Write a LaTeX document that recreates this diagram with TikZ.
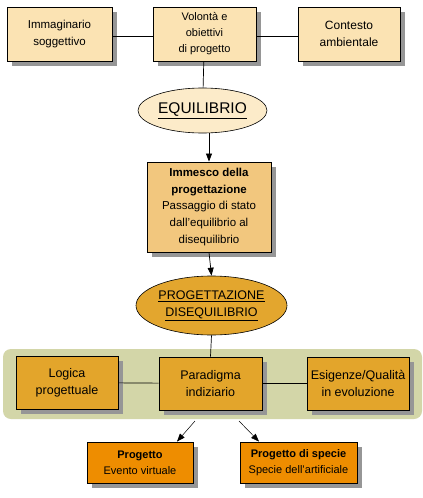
\documentclass[tikz,border=0pt]{standalone}
\usepackage{fontspec}
\setmainfont{Liberation Sans}
\usetikzlibrary{arrows.meta,shapes.geometric,shadows}
\definecolor{peachlight}{RGB}{251,227,179}
\definecolor{creamoval}{RGB}{252,235,201}
\definecolor{tanbox}{RGB}{242,199,126}
\definecolor{goldbox}{RGB}{227,165,43}
\definecolor{goldoval}{RGB}{227,166,46}
\definecolor{olivepanel}{RGB}{211,214,168}
\definecolor{orangebox}{RGB}{238,141,0}
\definecolor{shadowgray}{RGB}{150,150,150}

\begin{document}
\begin{tikzpicture}[
    x=1pt, y=-1pt,
    >={Triangle[length=8pt, width=6pt]},
    card/.style={draw=black, line width=0.9pt, inner sep=0pt, align=center,
        drop shadow={shadow xshift=5pt, shadow yshift=-5pt, fill=shadowgray, opacity=1}},
    oval/.style={ellipse, draw=black, line width=0.6pt, inner sep=0pt, align=center},
    link/.style={black, line width=0.7pt}
]

\useasboundingbox (0,0) rectangle (423,498);
\fill[white] (0,0) rectangle (423,498);

% top row
\node[card, fill=peachlight, minimum width=105pt, minimum height=54pt, font=\fontsize{11.5}{16.5}\selectfont] (imm) at (59.5,34) {Immaginario\\soggettivo};
\node[card, fill=peachlight, minimum width=103pt, minimum height=54pt, font=\fontsize{11}{16}\selectfont] (vol) at (204.5,34) {Volontà e\\obiettivi\\di progetto};
\node[card, fill=peachlight, minimum width=102pt, minimum height=54pt, font=\fontsize{12}{16.5}\selectfont] (cont) at (349,34) {Contesto\\ambientale};

% equilibrium
\node[oval, fill=creamoval, minimum width=129pt, minimum height=45pt, font=\fontsize{15.5}{18}\selectfont] (equi) at (202.5,110.5) {\underline{EQUILIBRIO}};

% trigger
\node[card, fill=tanbox, minimum width=124pt, minimum height=90pt, font=\fontsize{11.5}{17}\selectfont] (immesco) at (209,207) {\textbf{Immesco della}\\\textbf{progettazione}\\[-1pt]
    \fontsize{11.5}{15}\selectfont Passaggio di stato\\\fontsize{11.5}{15}\selectfont dall'equilibrio al\\\fontsize{11.5}{15}\selectfont disequilibrio};

% design / disequilibrium
\node[oval, fill=goldoval, minimum width=151pt, minimum height=59pt, font=\fontsize{12.5}{17}\selectfont] (prog) at (211.5,305.5) {\underline{PROGETTAZIONE}\\\underline{DISEQUILIBRIO}};

% panel
\fill[olivepanel, rounded corners=8pt] (3,349) rectangle (422,419);

\node[card, fill=goldbox, minimum width=102pt, minimum height=53pt, font=\fontsize{12.5}{17}\selectfont] (logica) at (67,382.5) {Logica\\progettuale};
\node[card, fill=goldbox, minimum width=103pt, minimum height=53pt, font=\fontsize{12.5}{17}\selectfont] (para) at (210.5,383.5) {Paradigma\\indiziario};
\node[card, fill=goldbox, minimum width=102pt, minimum height=53pt, font=\fontsize{12.5}{17}\selectfont] (esig) at (358,383.5) {Esigenze/Qualità\\in evoluzione};

% outcomes
\node[card, fill=orangebox, minimum width=106pt, minimum height=41pt, font=\fontsize{11}{16}\selectfont] (pr1) at (140,462.5) {\textbf{Progetto}\\Evento virtuale};
\node[card, fill=orangebox, minimum width=117pt, minimum height=41pt, font=\fontsize{11}{16}\selectfont] (pr2) at (298.5,462.5) {\textbf{Progetto di specie}\\Specie dell'artificiale};

\coordinate (fork1) at (195,421);
\coordinate (fork2) at (239,421);

% connectors
\draw[link] (imm.east |- 0,36) -- (vol.west |- 0,36);
\draw[link] (vol.east |- 0,36) -- (cont.west |- 0,36);
\draw[link] (vol) -- (equi);
\draw[link, ->] (immesco.north |- equi.south) -- (immesco.north);
\draw[link, ->] (immesco.south) -- (prog.north);
\draw[link] (prog.south) -- (para.north);
\draw[link] (logica) -- (para);
\draw[link] (para) -- (esig);
\draw[black, line width=0.5pt, ->] (fork1) -- (pr1.north -| 177,0);
\draw[black, line width=0.5pt, ->] (fork2) -- (pr2.north -| 259,0);

\end{tikzpicture}
\end{document}
